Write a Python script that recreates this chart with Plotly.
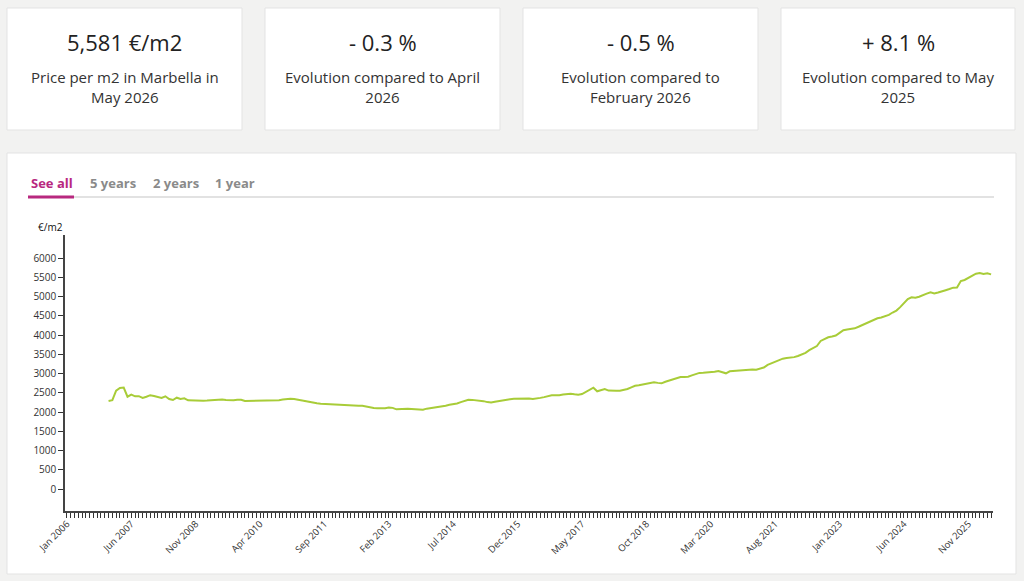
import plotly.graph_objects as go

# ---------------- data ----------------
month_names = ["Jan", "Feb", "Mar", "Apr", "May", "Jun", "Jul", "Aug", "Sep", "Oct", "Nov", "Dec"]
categories = [f"{m} {y}" for y in range(2006, 2027) for m in month_names][:245]  # Jan 2006 .. May 2026

start_month = "Dec 2006"
prices = [
    2290,
    # 2007
    2310, 2560, 2630, 2640, 2400, 2455, 2410, 2415, 2370, 2400, 2440, 2420,
    # 2008
    2385, 2366, 2411, 2340, 2314, 2375, 2340, 2358, 2306, 2300, 2300, 2296,
    # 2009
    2296, 2300, 2310, 2325, 2332, 2330, 2318, 2306, 2310, 2320, 2323, 2289,
    # 2010
    2289, 2290, 2298, 2303, 2306, 2300, 2306, 2300, 2308, 2325, 2340, 2345,
    # 2011
    2340, 2320, 2296, 2280, 2265, 2245, 2229, 2220, 2215, 2210, 2200, 2185,
    # 2012
    2176, 2180, 2184, 2178, 2170, 2168, 2167, 2140, 2115, 2106, 2100, 2098,
    # 2013
    2098, 2120, 2110, 2072, 2080, 2089, 2085, 2082, 2080, 2068, 2063, 2090,
    # 2014
    2105, 2115, 2130, 2140, 2165, 2193, 2208, 2225, 2260, 2300, 2323, 2318,
    # 2015
    2310, 2306, 2285, 2260, 2248, 2270, 2289, 2305, 2320, 2335, 2345, 2352,
    # 2016
    2360, 2366, 2355, 2342, 2350, 2370, 2390, 2415, 2436, 2438, 2436, 2455,
    # 2017
    2470, 2479, 2462, 2453, 2470, 2520, 2580, 2635, 2541, 2580, 2600, 2560,
    # 2018
    2549, 2553, 2557, 2575, 2600, 2645, 2685, 2700, 2715, 2731, 2755, 2775,
    # 2019
    2760, 2749, 2790, 2825, 2850, 2880, 2910, 2915, 2921, 2955, 2990, 3020,
    # 2020
    3025, 3030, 3035, 3050, 3069, 3040, 3009, 3060, 3070, 3077, 3090, 3105,
    # 2021
    3113, 3110, 3103, 3140, 3160, 3230, 3270, 3311, 3350, 3390, 3405, 3415,
    # 2022
    3430, 3460, 3495, 3540, 3610, 3660, 3719, 3850, 3900, 3945, 3965, 3990,
    # 2023
    4060, 4130, 4150, 4165, 4179, 4220, 4265, 4310, 4370, 4410, 4440, 4460,
    # 2024
    4490, 4530, 4590, 4640, 4730, 4850, 4940, 4986, 4975, 5000, 5030, 5080,
    # 2025
    5116, 5085, 5110, 5150, 5170, 5200, 5236, 5240, 5410, 5436, 5490, 5545,
    # 2026
    5600, 5618, 5590, 5609, 5581,
]

y_ticks = list(range(0, 6001, 500))
label_every = 17

card_values = ["5,581 €/m2", "- 0.3 %", "- 0.5 %", "+ 8.1 %"]
card_texts = [
    "Price per m2 in Marbella in<br>May 2026",
    "Evolution compared to April<br>2026",
    "Evolution compared to<br>February 2026",
    "Evolution compared to May<br>2025",
]
tabs = ["See all", "5 years", "2 years", "1 year"]

# ---------------- layout geometry (pixels) ----------------
W, H = 1024, 581
PL, PR, PT, PB = 65, 993, 235, 511


def px(x):
    return (x - PL) / (PR - PL)


def py(y):
    return (PB - y) / (PB - PT)


FONT = "Open Sans"

x_start = categories.index(start_month)
xs = categories[x_start:x_start + len(prices)]

fig = go.Figure()
fig.add_trace(go.Scatter(
    x=xs, y=prices, mode="lines",
    line=dict(color="#a8cc38", width=2),
    hoverinfo="x+y",
))

ticktext = [c if i % label_every == 0 else "" for i, c in enumerate(categories)]

shapes = []
# cards
card_boxes = [(7, 242), (265, 500), (523, 758), (781, 1015)]
for (x0, x1) in card_boxes:
    shapes.append(dict(type="rect", xref="paper", yref="paper",
                       x0=px(x0), x1=px(x1), y0=py(130), y1=py(8),
                       fillcolor="white", line=dict(color="#e3e3e3", width=1), layer="below"))
# big chart card
shapes.append(dict(type="rect", xref="paper", yref="paper",
                   x0=px(7), x1=px(1016), y0=py(574), y1=py(153),
                   fillcolor="white", line=dict(color="#e3e3e3", width=1), layer="below"))
# tab baseline
shapes.append(dict(type="line", xref="paper", yref="paper",
                   x0=px(73), x1=px(994), y0=py(197), y1=py(197),
                   line=dict(color="#e2e2e2", width=2), layer="below"))
# active tab underline
shapes.append(dict(type="line", xref="paper", yref="paper",
                   x0=px(28), x1=px(74), y0=py(197), y1=py(197),
                   line=dict(color="#b8287f", width=3), layer="below"))

annotations = []
for (x0, x1), v, t in zip(card_boxes, card_values, card_texts):
    cx = (x0 + x1) / 2
    annotations.append(dict(xref="paper", yref="paper", x=px(cx), y=py(42),
                            text=v, showarrow=False, xanchor="center", yanchor="middle",
                            font=dict(family=FONT, size=22, color="#222")))
    annotations.append(dict(xref="paper", yref="paper", x=px(cx), y=py(87),
                            text=t, showarrow=False, xanchor="center", yanchor="middle",
                            align="center",
                            font=dict(family=FONT, size=15, color="#333")))

tab_x = [29, 88, 151, 213]
for i, (t, x) in enumerate(zip(tabs, tab_x)):
    annotations.append(dict(xref="paper", yref="paper", x=px(x), y=py(183),
                            text=f"<b>{t}</b>", showarrow=False, xanchor="left", yanchor="middle",
                            font=dict(family=FONT, size=13,
                                      color="#b8287f" if i == 0 else "#8a8a8a")))

annotations.append(dict(xref="paper", yref="paper", x=px(36), y=py(227),
                        text="€/m2", showarrow=False, xanchor="left", yanchor="middle",
                        font=dict(family=FONT, size=10, color="#111")))

fig.update_layout(
    width=W, height=H,
    margin=dict(l=PL, r=W - PR, t=PT, b=H - PB),
    paper_bgcolor="#f2f2f1",
    plot_bgcolor="white",
    showlegend=False,
    shapes=shapes,
    annotations=annotations,
    font=dict(family=FONT, color="#333"),
    xaxis=dict(
        type="category",
        categoryorder="array", categoryarray=categories,
        range=[-0.5, len(categories) - 0.5],
        tickmode="array", tickvals=categories, ticktext=ticktext,
        tickangle=-45,
        ticks="outside", ticklen=5, tickwidth=1, tickcolor="#333",
        ticklabelstandoff=-3,
        showline=True, linecolor="#444", linewidth=1.5,
        showgrid=False, zeroline=False,
        tickfont=dict(family=FONT, size=9.5, color="#333"),
        fixedrange=True,
    ),
    yaxis=dict(
        range=[-572, 6606],
        tickmode="array", tickvals=y_ticks,
        ticks="outside", ticklen=5, tickwidth=1, tickcolor="#333",
        showline=True, linecolor="#444", linewidth=1.5,
        showgrid=False, zeroline=False,
        tickfont=dict(family=FONT, size=10, color="#333"),
        fixedrange=True,
    ),
)

fig.write_html("out.html", config={"displayModeBar": False})
